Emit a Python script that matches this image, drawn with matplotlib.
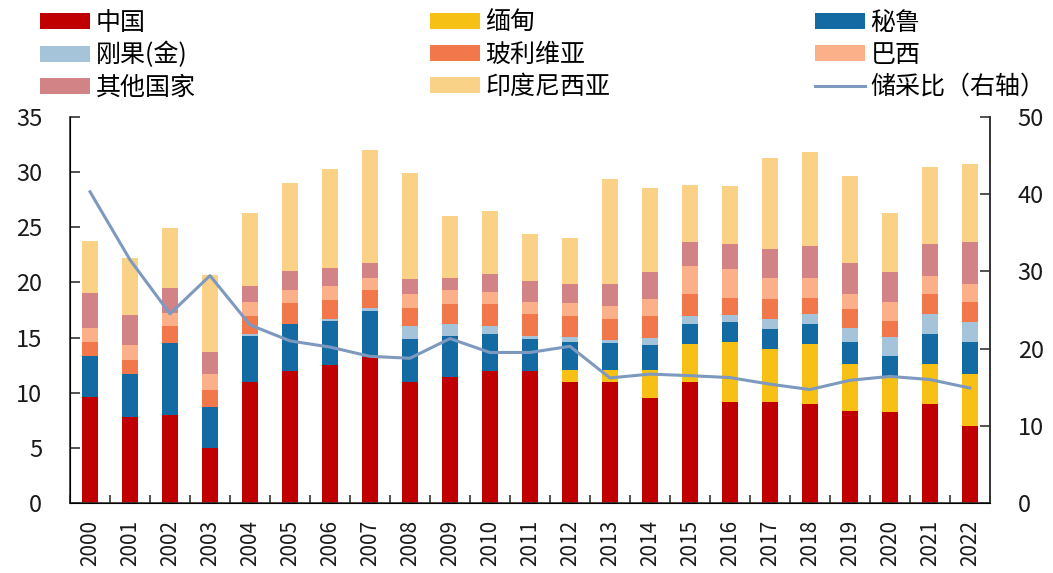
import matplotlib
matplotlib.use("Agg")
import matplotlib.pyplot as plt
import numpy as np
from matplotlib.patches import Patch
from matplotlib.lines import Line2D

plt.rcParams['font.family'] = ['Noto Sans CJK SC', 'DejaVu Sans']

# 年份
anos = [str(a) for a in range(2000, 2023)]

# 各国产量（左轴）
china = [9.65, 7.84, 8.0, 4.95, 10.98, 11.98, 12.5, 13.27, 10.98, 11.46, 11.95, 11.95,
         10.98, 10.98, 9.53, 10.98, 9.17, 9.2, 8.96, 8.36, 8.3, 8.96, 7.0]
mianmar = [0, 0, 0, 0, 0, 0, 0, 0, 0, 0, 0, 0,
           1.09, 1.09, 2.54, 3.41, 5.43, 4.8, 5.49, 4.28, 3.22, 3.68, 4.73]
peru = [3.68, 3.83, 6.5, 3.8, 4.2, 4.22, 4.0, 4.13, 3.86, 3.68, 3.4, 2.9,
        2.56, 2.41, 2.23, 1.87, 1.84, 1.75, 1.81, 1.99, 1.81, 2.71, 2.87]
congo = [0, 0, 0, 0, 0.15, 0.05, 0.15, 0.3, 1.21, 1.06, 0.67, 0.3,
         0.42, 0.3, 0.7, 0.69, 0.6, 0.96, 0.84, 1.21, 1.72, 1.75, 1.84]
bolivia = [1.27, 1.3, 1.57, 1.5, 1.6, 1.87, 1.75, 1.64, 1.65, 1.87, 2.02, 2.02,
           1.95, 1.87, 2.0, 2.02, 1.57, 1.75, 1.51, 1.72, 1.45, 1.87, 1.78]
brasil = [1.27, 1.39, 1.2, 1.41, 1.25, 1.23, 1.23, 1.02, 1.27, 1.23, 1.09, 1.09,
          1.16, 1.21, 1.46, 2.5, 2.63, 1.96, 1.81, 1.41, 1.75, 1.6, 1.66]
outros = [3.13, 2.65, 2.25, 2.03, 1.48, 1.67, 1.68, 1.36, 1.3, 1.12, 1.67, 1.87,
          1.74, 2.04, 2.51, 2.2, 2.26, 2.57, 2.87, 2.81, 2.72, 2.87, 3.8]
indonesia = [4.74, 5.2, 5.4, 7.0, 6.67, 8.03, 9.0, 10.28, 9.6, 5.58, 5.69, 4.25,
             4.1, 9.48, 7.6, 5.19, 5.22, 8.29, 8.51, 7.84, 5.33, 7.03, 7.06]

# 储采比（右轴）
chucaibi = [40.3, 31.5, 24.5, 29.45, 23.07, 21.0, 20.2, 19.0, 18.75, 21.3, 19.5, 19.5,
            20.3, 16.2, 16.7, 16.5, 16.25, 15.4, 14.7, 15.9, 16.4, 16.0, 14.9]

series = [
    ("中国", china, "#C00000"),
    ("缅甸", mianmar, "#F6C015"),
    ("秘鲁", peru, "#146BA3"),
    ("刚果(金)", congo, "#A5C3D9"),
    ("玻利维亚", bolivia, "#F2784B"),
    ("巴西", brasil, "#FCB08A"),
    ("其他国家", outros, "#D28385"),
    ("印度尼西亚", indonesia, "#FAD287"),
]
cor_linha = "#7D99BF"
cor_texto = "#1a1a1a"

fig = plt.figure(figsize=(10.53, 5.73), dpi=100)
ax = fig.add_axes([0.0665, 0.122, 0.8735, 0.674])

x = np.arange(len(anos))
base = np.zeros(len(anos))
for nome, valores, cor in series:
    ax.bar(x, valores, bottom=base, width=0.4, color=cor, linewidth=0)
    base += np.array(valores)

ax.set_xlim(-0.5, len(anos) - 0.5)
ax.set_ylim(0, 35)
ax.set_yticks(range(0, 36, 5))
ax.set_xticks(x)
ax.set_xticklabels(anos, rotation=90)
ax.set_xticks(np.arange(-0.5, len(anos), 1), minor=True)
ax.tick_params(axis='x', which='major', length=0, pad=12, labelsize=15, labelcolor=cor_texto)
ax.tick_params(axis='x', which='minor', direction='in', length=6, width=1.2, color='#333333')
ax.tick_params(axis='y', direction='in', length=7, width=1.2, pad=20, labelsize=17,
               labelcolor=cor_texto, color='#333333')
ax.spines['top'].set_visible(False)
for s in ['left', 'bottom', 'right']:
    ax.spines[s].set_color('#333333')
    ax.spines[s].set_linewidth(1.2)

ax2 = ax.twinx()
ax2.plot(x, chucaibi, color=cor_linha, linewidth=2.2)
ax2.set_ylim(0, 50)
ax2.set_yticks(range(0, 51, 10))
ax2.tick_params(axis='y', direction='in', length=7, width=1.2, pad=20, labelsize=17,
                labelcolor=cor_texto, color='#333333')
ax2.spines['top'].set_visible(False)
ax2.spines['right'].set_color('#333333')
ax2.spines['right'].set_linewidth(1.2)

# legenda em três colunas
handles = [Patch(facecolor=c, edgecolor='none') for _, _, c in series]
handles.append(Line2D([], [], color=cor_linha, linewidth=2.2))
labels = [n for n, _, _ in series] + ["储采比（右轴）"]

grupos = [[0, 3, 6], [1, 4, 7], [2, 5, 8]]
xs = [0.036, 0.406, 0.772]
for g, xpos in zip(grupos, xs):
    fig.legend([handles[i] for i in g], [labels[i] for i in g],
               loc='upper left', bbox_to_anchor=(xpos, 0.987), frameon=False,
               fontsize=18, handlelength=2.0, handleheight=0.6, handletextpad=0.2,
               labelspacing=0.24, borderpad=0.1, borderaxespad=0)

fig.savefig("out.png", dpi=100)
